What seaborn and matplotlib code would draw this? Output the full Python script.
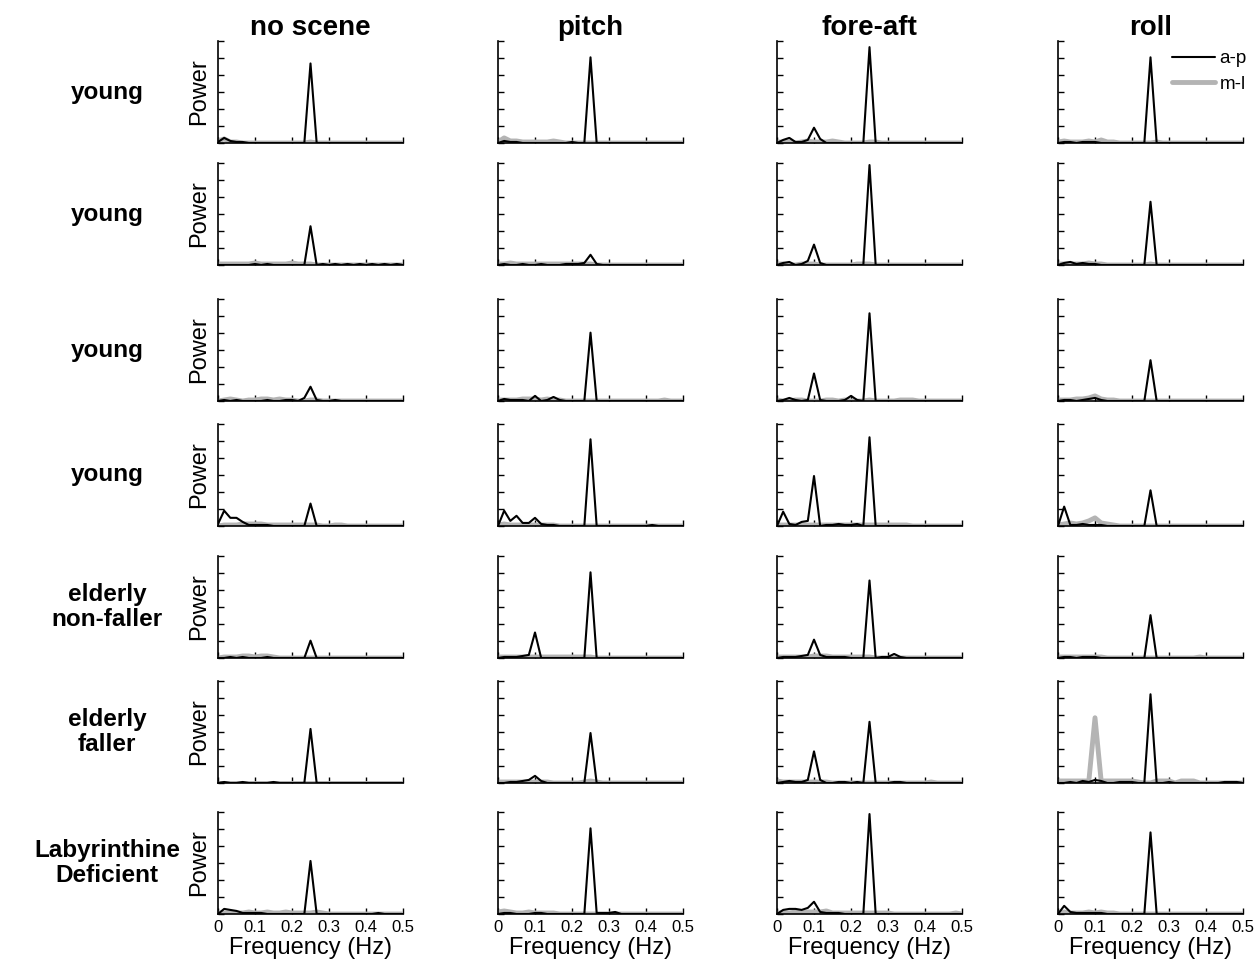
import numpy as np
import pandas as pd
import seaborn as sns
import matplotlib.pyplot as plt

# frequency grid of the spectra (Hz)
freq = np.linspace(0, 0.5, 31)

conditions = ["no scene", "pitch", "fore-aft", "roll"]
subjects = ["young", "young", "young", "young",
            "elderly\nnon-faller", "elderly\nfaller", "Labyrinthine\nDeficient"]
xtick_vals = [0, 0.1, 0.2, 0.3, 0.4, 0.5]
xtick_text = ["0", "0.1", "0.2", "0.3", "0.4", "0.5"]

# power, in % of each panel's axis height; one row per subject, one column per condition
ap = [
    [
        [1, 5, 2, 1, 1, 0, 0, 0, 0, 0, 0, 0, 0, 0, 0, 78, 0, 0, 0, 0, 0, 0, 0, 0, 0, 0, 0, 0, 0, 0, 0],
        [0, 2, 1, 1, 0, 0, 0, 0, 0, 0, 0, 0, 1, 0, 0, 84, 0, 0, 0, 0, 0, 0, 0, 0, 0, 0, 0, 0, 0, 0, 0],
        [0, 3, 5, 1, 1, 3, 15, 4, 0, 0, 0, 0, 0, 0, 0, 94, 0, 0, 0, 0, 0, 0, 0, 0, 0, 0, 0, 0, 0, 0, 0],
        [0, 1, 1, 0, 1, 1, 1, 0, 0, 0, 0, 0, 0, 0, 0, 84, 0, 0, 0, 0, 0, 0, 0, 0, 0, 0, 0, 0, 0, 0, 0],
    ],
    [
        [0, 0, 0, 0, 0, 0, 1, 0, 1, 0, 0, 0, 0, 0, 0, 38, 0, 1, 0, 1, 0, 1, 0, 1, 0, 1, 0, 1, 0, 1, 0],
        [0, 1, 0, 0, 1, 0, 0, 1, 0, 0, 0, 1, 1, 1, 2, 10, 1, 0, 0, 0, 0, 0, 0, 0, 0, 0, 0, 0, 0, 0, 0],
        [0, 2, 3, 0, 1, 4, 20, 2, 0, 0, 0, 0, 0, 0, 0, 98, 0, 0, 0, 0, 0, 0, 0, 0, 0, 0, 0, 0, 0, 0, 0],
        [0, 2, 3, 1, 2, 1, 1, 0, 0, 0, 0, 0, 0, 0, 0, 62, 0, 0, 0, 0, 0, 0, 0, 0, 0, 0, 0, 0, 0, 0, 0],
    ],
    [
        [0, 1, 0, 1, 0, 0, 0, 0, 1, 0, 0, 1, 1, 0, 3, 14, 1, 0, 0, 1, 0, 0, 0, 0, 0, 0, 0, 0, 0, 0, 0],
        [0, 2, 1, 1, 1, 0, 5, 0, 1, 4, 1, 0, 0, 0, 0, 67, 0, 0, 0, 0, 0, 0, 0, 0, 0, 0, 0, 0, 0, 0, 0],
        [0, 1, 3, 1, 0, 1, 27, 1, 0, 0, 0, 1, 5, 1, 0, 86, 0, 0, 0, 0, 0, 0, 0, 0, 0, 0, 0, 0, 0, 0, 0],
        [0, 1, 1, 0, 1, 2, 3, 1, 0, 0, 0, 0, 0, 0, 0, 40, 0, 0, 0, 0, 0, 0, 0, 0, 0, 0, 0, 0, 0, 0, 0],
    ],
    [
        [2, 15, 8, 8, 4, 1, 1, 1, 1, 0, 0, 0, 0, 0, 0, 22, 0, 0, 0, 0, 0, 0, 0, 0, 0, 0, 0, 0, 0, 0, 0],
        [0, 15, 5, 10, 3, 3, 8, 2, 1, 1, 0, 0, 0, 0, 0, 85, 0, 0, 0, 0, 0, 0, 0, 0, 0, 1, 0, 0, 0, 0, 0],
        [0, 14, 2, 1, 4, 5, 49, 0, 1, 1, 2, 1, 1, 2, 0, 87, 0, 0, 0, 0, 0, 0, 0, 0, 0, 0, 0, 0, 0, 0, 0],
        [0, 19, 1, 1, 2, 1, 1, 1, 0, 0, 0, 0, 0, 0, 0, 35, 0, 0, 0, 0, 0, 0, 0, 0, 0, 0, 0, 0, 0, 0, 0],
    ],
    [
        [0, 0, 1, 0, 1, 0, 0, 0, 1, 0, 0, 0, 0, 0, 0, 17, 0, 0, 0, 0, 0, 0, 0, 0, 0, 0, 0, 0, 0, 0, 0],
        [0, 1, 1, 1, 2, 3, 25, 0, 0, 0, 0, 0, 0, 0, 0, 84, 0, 0, 0, 0, 0, 0, 0, 0, 0, 0, 0, 0, 0, 0, 0],
        [0, 1, 1, 1, 2, 3, 18, 3, 1, 1, 1, 1, 0, 0, 0, 76, 0, 1, 1, 4, 1, 0, 0, 0, 0, 0, 0, 0, 0, 0, 0],
        [0, 1, 1, 0, 1, 1, 1, 0, 0, 0, 0, 0, 0, 0, 0, 42, 0, 0, 0, 0, 0, 0, 0, 0, 0, 0, 0, 0, 0, 0, 0],
    ],
    [
        [0, 1, 0, 0, 1, 0, 0, 0, 0, 1, 0, 0, 0, 0, 0, 53, 0, 0, 0, 0, 0, 0, 0, 0, 0, 0, 0, 0, 0, 0, 0],
        [0, 0, 1, 1, 2, 3, 7, 2, 0, 0, 0, 0, 0, 0, 0, 49, 0, 0, 0, 0, 0, 0, 0, 0, 0, 0, 0, 0, 0, 0, 0],
        [0, 1, 2, 1, 1, 3, 31, 3, 0, 0, 1, 1, 0, 1, 0, 60, 0, 0, 0, 1, 1, 0, 0, 0, 0, 0, 0, 0, 0, 0, 0],
        [0, 0, 1, 0, 2, 1, 3, 2, 0, 0, 1, 1, 1, 0, 0, 87, 0, 0, 1, 0, 0, 0, 0, 0, 0, 0, 0, 1, 1, 1, 0],
    ],
    [
        [0, 5, 4, 3, 1, 1, 1, 1, 0, 0, 0, 0, 0, 0, 0, 52, 0, 0, 0, 0, 0, 0, 0, 0, 0, 0, 1, 0, 0, 0, 0],
        [0, 1, 1, 0, 0, 0, 1, 1, 0, 0, 0, 0, 0, 0, 0, 84, 1, 1, 1, 2, 0, 0, 0, 0, 0, 0, 0, 0, 0, 0, 0],
        [0, 4, 5, 5, 4, 6, 12, 2, 1, 1, 1, 0, 0, 0, 0, 98, 0, 0, 0, 0, 0, 0, 0, 0, 0, 0, 0, 0, 0, 0, 0],
        [0, 8, 2, 1, 1, 1, 1, 1, 0, 0, 0, 0, 0, 0, 0, 80, 0, 0, 0, 0, 0, 0, 0, 0, 0, 0, 0, 0, 0, 0, 0],
    ],
]

ml = [
    [
        [2, 4, 1, 1, 0, 0, 0, 0, 0, 0, 0, 0, 0, 0, 0, 1, 0, 0, 0, 0, 0, 0, 0, 0, 0, 0, 0, 0, 0, 0, 0],
        [1, 5, 2, 2, 1, 1, 1, 1, 1, 2, 1, 0, 0, 0, 0, 0, 0, 0, 0, 0, 0, 0, 0, 0, 0, 0, 0, 0, 0, 0, 0],
        [1, 1, 1, 0, 1, 2, 1, 1, 1, 2, 1, 0, 0, 0, 0, 1, 1, 0, 0, 0, 0, 0, 0, 0, 0, 0, 0, 0, 0, 0, 0],
        [1, 2, 1, 1, 1, 2, 1, 3, 1, 1, 0, 0, 0, 0, 0, 0, 1, 0, 0, 0, 0, 0, 0, 0, 0, 0, 0, 0, 0, 0, 0],
    ],
    [
        [1, 1, 1, 1, 1, 1, 2, 1, 1, 1, 1, 1, 2, 1, 1, 1, 0, 0, 0, 0, 0, 0, 0, 0, 0, 0, 0, 0, 0, 0, 0],
        [1, 1, 2, 1, 1, 1, 1, 1, 1, 1, 1, 1, 1, 1, 1, 1, 0, 0, 0, 0, 0, 0, 0, 0, 0, 0, 0, 0, 0, 0, 0],
        [1, 1, 0, 0, 1, 1, 1, 0, 0, 0, 0, 0, 0, 1, 1, 1, 0, 0, 0, 0, 0, 0, 0, 0, 0, 0, 0, 0, 0, 0, 0],
        [1, 1, 1, 1, 1, 2, 1, 1, 0, 0, 0, 0, 0, 0, 0, 1, 0, 0, 0, 0, 0, 0, 0, 0, 0, 0, 0, 0, 0, 0, 0],
    ],
    [
        [0, 1, 2, 1, 0, 1, 1, 2, 2, 1, 2, 1, 1, 0, 0, 1, 1, 0, 0, 0, 0, 0, 0, 0, 0, 0, 0, 0, 0, 0, 0],
        [1, 1, 1, 1, 2, 2, 2, 1, 2, 1, 1, 0, 0, 0, 0, 0, 0, 0, 0, 0, 0, 0, 0, 0, 0, 0, 0, 1, 0, 0, 0],
        [1, 0, 0, 1, 1, 0, 0, 0, 1, 1, 0, 1, 0, 0, 0, 1, 0, 0, 0, 0, 1, 1, 1, 0, 0, 0, 0, 0, 0, 0, 0],
        [1, 1, 1, 2, 2, 3, 5, 2, 1, 1, 0, 0, 0, 0, 0, 0, 0, 0, 0, 0, 0, 0, 0, 0, 0, 0, 0, 0, 0, 0, 0],
    ],
    [
        [0, 1, 1, 1, 2, 2, 2, 2, 1, 1, 1, 1, 1, 1, 1, 1, 1, 0, 0, 1, 1, 0, 0, 0, 0, 0, 0, 0, 0, 0, 0],
        [1, 2, 1, 1, 1, 1, 1, 1, 1, 1, 0, 0, 0, 0, 0, 0, 0, 0, 0, 0, 0, 0, 0, 0, 0, 0, 0, 0, 0, 0, 0],
        [1, 1, 1, 1, 1, 1, 1, 1, 1, 1, 1, 1, 1, 1, 1, 1, 1, 1, 1, 1, 1, 1, 0, 0, 0, 0, 0, 0, 0, 0, 0],
        [1, 2, 3, 2, 3, 5, 8, 3, 2, 1, 0, 0, 0, 0, 0, 0, 0, 0, 0, 0, 0, 0, 0, 0, 0, 0, 0, 0, 0, 0, 0],
    ],
    [
        [0, 1, 1, 1, 2, 2, 1, 2, 2, 1, 0, 0, 0, 0, 0, 0, 0, 0, 0, 0, 0, 0, 0, 0, 0, 0, 0, 0, 0, 0, 0],
        [1, 1, 1, 1, 1, 1, 1, 1, 1, 1, 1, 1, 1, 1, 1, 1, 0, 0, 0, 0, 0, 0, 0, 0, 0, 0, 0, 0, 0, 0, 0],
        [1, 1, 1, 1, 1, 1, 2, 2, 2, 1, 1, 1, 1, 1, 1, 1, 0, 0, 0, 0, 0, 0, 0, 0, 0, 0, 0, 0, 0, 0, 0],
        [1, 1, 1, 1, 1, 1, 1, 1, 0, 0, 0, 0, 0, 0, 0, 0, 0, 0, 0, 0, 0, 0, 0, 1, 0, 0, 0, 0, 0, 0, 0],
    ],
    [
        [0, 0, 0, 0, 0, 0, 0, 0, 0, 0, 0, 0, 0, 0, 0, 0, 0, 0, 0, 0, 0, 0, 0, 0, 0, 0, 0, 0, 0, 0, 0],
        [1, 1, 1, 1, 1, 1, 1, 1, 1, 0, 0, 0, 0, 0, 1, 2, 1, 0, 0, 0, 0, 0, 0, 0, 0, 0, 0, 0, 0, 0, 0],
        [2, 1, 1, 1, 1, 1, 1, 1, 1, 0, 0, 0, 0, 0, 0, 0, 0, 0, 0, 0, 0, 0, 0, 0, 0, 1, 0, 0, 0, 0, 0],
        [2, 2, 2, 2, 2, 2, 64, 2, 2, 2, 2, 2, 2, 1, 0, 0, 2, 2, 2, 0, 2, 2, 2, 0, 0, 0, 0, 0, 0, 0, 0],
    ],
    [
        [1, 1, 1, 1, 1, 2, 1, 1, 2, 1, 1, 2, 1, 1, 1, 1, 2, 1, 0, 0, 0, 0, 0, 0, 0, 0, 0, 0, 0, 0, 0],
        [2, 3, 2, 1, 1, 2, 1, 1, 1, 1, 0, 0, 0, 0, 0, 0, 0, 0, 0, 0, 0, 0, 0, 0, 0, 0, 0, 0, 0, 0, 0],
        [1, 1, 1, 2, 1, 2, 2, 2, 3, 1, 1, 1, 1, 1, 1, 1, 1, 1, 1, 0, 0, 0, 0, 0, 0, 0, 0, 0, 0, 1, 0],
        [1, 2, 1, 1, 1, 2, 1, 2, 1, 1, 0, 0, 0, 0, 0, 0, 0, 0, 0, 0, 0, 0, 0, 0, 0, 0, 0, 0, 0, 0, 0],
    ],
]

sns.set_style("ticks")
plt.rcParams["font.family"] = ["Liberation Sans", "DejaVu Sans"]
plt.rcParams.update({"text.color": "black", "axes.labelcolor": "black",
                     "axes.edgecolor": "black", "xtick.color": "black",
                     "ytick.color": "black"})

W, H = 1254, 965
fig = plt.figure(figsize=(W / 100, H / 100), dpi=100)

# panel placement in pixels (left edges of columns, top edges of rows)
col_left = [218, 498, 777, 1058]
row_top = [41, 163, 299, 424, 556, 681, 812]
ax_w, ax_h = 185, 102

grey = "#b4b4b4"

for r in range(len(subjects)):
    for c in range(len(conditions)):
        ax = fig.add_axes([col_left[c] / W, 1 - (row_top[r] + ax_h) / H, ax_w / W, ax_h / H])
        df = pd.DataFrame({"freq": freq, "a-p": ap[r][c], "m-l": ml[r][c]})
        sns.lineplot(data=df, x="freq", y="m-l", ax=ax, color=grey, lw=3.5,
                     label="m-l", zorder=2, legend=False)
        sns.lineplot(data=df, x="freq", y="a-p", ax=ax, color="black", lw=1.5,
                     label="a-p", zorder=3, legend=False)
        ax.set_xlim(0, 0.5)
        ax.set_ylim(0, 100)
        ax.set_xticks(xtick_vals)
        ax.set_yticks(np.linspace(0, 100, 7))
        ax.set_yticklabels([])
        ax.tick_params(direction="in", length=4, width=1, labelsize=12, pad=4)
        sns.despine(ax=ax)
        for s in ["left", "bottom"]:
            ax.spines[s].set_linewidth(1.2)
        if r == len(subjects) - 1:
            ax.set_xticklabels(xtick_text)
            ax.set_xlabel("Frequency (Hz)", fontsize=17, labelpad=2)
        else:
            ax.set_xticklabels([])
            ax.set_xlabel("")
        if c == 0:
            ax.set_ylabel("Power", fontsize=17, labelpad=2)
            ax.text(-0.6, 0.5, subjects[r], transform=ax.transAxes, ha="center",
                    va="center", fontsize=17.5, fontweight="bold", linespacing=1.1)
        else:
            ax.set_ylabel("")
        if r == 0:
            ax.set_title(conditions[c], fontsize=20, fontweight="bold", pad=3)
        if r == 0 and c == 3:
            h, l = ax.get_legend_handles_labels()
            ax.legend(h[::-1], l[::-1], loc="upper left", bbox_to_anchor=(0.615, 0.91),
                      frameon=False, fontsize=13.5, handlelength=2.3, handletextpad=0.25,
                      borderaxespad=0, borderpad=0, labelspacing=0.45)

fig.savefig("out.png", dpi=100)
